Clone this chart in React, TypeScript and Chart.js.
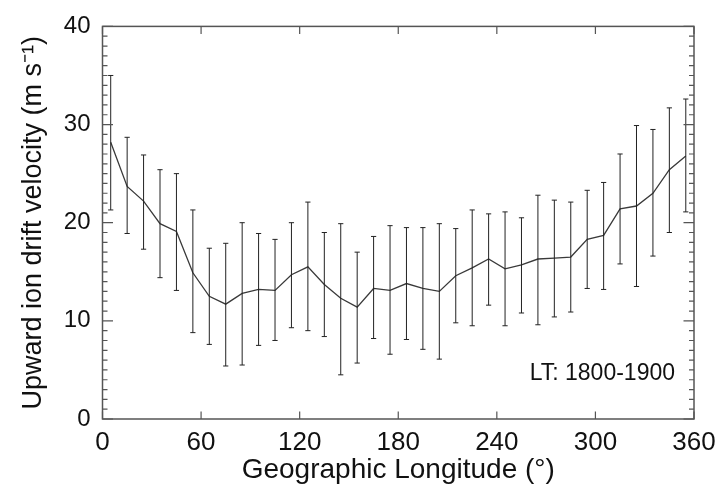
import React, { useEffect, useRef } from "react";
import { Chart, registerables } from "chart.js";

Chart.register(...registerables);

const longitudes = [5, 15, 25, 35, 45, 55, 65, 75, 85, 95, 105, 115, 125, 135, 145, 155, 165, 175, 185, 195, 205, 215, 225, 235, 245, 255, 265, 275, 285, 295, 305, 315, 325, 335, 345, 355];
const meanVelocity = [28.2, 23.7, 22.2, 19.9, 19.1, 14.9, 12.5, 11.7, 12.8, 13.2, 13.1, 14.7, 15.5, 13.7, 12.3, 11.4, 13.3, 13.1, 13.8, 13.3, 13.0, 14.6, 15.4, 16.3, 15.3, 15.7, 16.3, 16.4, 16.5, 18.3, 18.7, 21.4, 21.7, 23.0, 25.4, 26.8];
const upperVelocity = [35.0, 28.7, 26.9, 25.4, 25.0, 21.3, 17.4, 17.9, 20.0, 18.9, 18.3, 20.0, 22.1, 19.0, 19.9, 17.0, 18.6, 19.7, 19.5, 19.5, 19.9, 19.4, 21.3, 20.9, 21.1, 20.5, 22.8, 22.3, 22.1, 23.3, 24.1, 27.0, 29.9, 29.5, 31.7, 32.6];
const lowerVelocity = [21.3, 18.9, 17.3, 14.4, 13.1, 8.8, 7.6, 5.4, 5.5, 7.5, 8.0, 9.3, 9.0, 8.4, 4.5, 5.7, 8.2, 6.6, 8.1, 7.1, 6.1, 9.8, 9.5, 11.6, 9.5, 10.8, 9.6, 10.4, 10.9, 13.3, 13.2, 15.8, 13.5, 16.6, 19.0, 21.1];
const xTickValues = [0, 60, 120, 180, 240, 300, 360];
const yTickValues = [0, 10, 20, 30, 40];
const annotationText = "LT: 1800-1900";
const xTitle = "Geographic Longitude (\u00B0)";
const yTitle = "Upward ion drift velocity (m s\u207B\u00B9)";

const FONT = "'Liberation Sans', Arial, Helvetica, sans-serif";

const errorBarPlugin = {
  id: "errorBars",
  afterDatasetsDraw(chart: any) {
    const { ctx, scales } = chart;
    const xs = scales.x;
    const ys = scales.y;
    ctx.save();
    ctx.strokeStyle = "#222";
    ctx.lineWidth = 1;
    const cap = 2.6;
    for (let i = 0; i < longitudes.length; i++) {
      const x = xs.getPixelForValue(longitudes[i]);
      const yt = ys.getPixelForValue(upperVelocity[i]);
      const yb = ys.getPixelForValue(lowerVelocity[i]);
      ctx.beginPath();
      ctx.moveTo(x, yt);
      ctx.lineTo(x, yb);
      ctx.moveTo(x - cap, yt);
      ctx.lineTo(x + cap, yt);
      ctx.moveTo(x - cap, yb);
      ctx.lineTo(x + cap, yb);
      ctx.stroke();
    }
    ctx.restore();
  },
};

const framePlugin = {
  id: "frame",
  afterDraw(chart: any) {
    const { ctx, chartArea, scales } = chart;
    const { left, right, top, bottom } = chartArea;
    const xs = scales.x;
    const ys = scales.y;
    ctx.save();
    ctx.strokeStyle = "#555";
    ctx.lineWidth = 1.5;
    ctx.strokeRect(left, top, right - left, bottom - top);
    ctx.lineWidth = 1.2;
    ctx.beginPath();
    for (const v of xTickValues) {
      const x = xs.getPixelForValue(v);
      ctx.moveTo(x, bottom);
      ctx.lineTo(x, bottom - 7.5);
      ctx.moveTo(x, top);
      ctx.lineTo(x, top + 7.5);
    }
    for (let v = ys.min; v <= ys.max; v += 1) {
      const y = ys.getPixelForValue(v);
      const len = v % 10 === 0 ? 10.5 : 5;
      ctx.moveTo(left, y);
      ctx.lineTo(left + len, y);
      ctx.moveTo(right, y);
      ctx.lineTo(right - len, y);
    }
    ctx.stroke();
    ctx.fillStyle = "#111";
    ctx.font = `23px ${FONT}`;
    ctx.textAlign = "right";
    ctx.textBaseline = "alphabetic";
    ctx.fillText(annotationText, right - 19, ys.getPixelForValue(4));
    ctx.restore();
  },
};

export default function App() {
  const canvasRef = useRef<HTMLCanvasElement | null>(null);

  useEffect(() => {
    const canvas = canvasRef.current;
    if (!canvas) return;
    const points = longitudes.map((lon, i) => ({ x: lon, y: meanVelocity[i] }));
    const chart = new Chart(canvas, {
      type: "line",
      data: {
        datasets: [
          {
            data: points,
            borderColor: "#3a3a3a",
            borderWidth: 1.3,
            pointRadius: 0,
            tension: 0,
            fill: false,
          },
        ],
      },
      options: {
        responsive: false,
        animation: false,
        events: [],
        layout: { padding: { left: 0, top: 12, right: 31, bottom: 0 } },
        plugins: {
          legend: { display: false },
          tooltip: { enabled: false },
          title: { display: false },
        },
        scales: {
          x: {
            type: "linear",
            min: 0,
            max: 360,
            afterFit: (scale: any) => {
              scale.height = 76;
            },
            afterBuildTicks: (scale: any) => {
              scale.ticks = xTickValues.map((v) => ({ value: v }));
            },
            grid: { display: false, drawTicks: false },
            border: { display: false },
            ticks: {
              color: "#111",
              font: { family: FONT, size: 26 },
              padding: 8,
              maxRotation: 0,
              autoSkip: false,
            },
            title: {
              display: true,
              text: xTitle,
              color: "#111",
              font: { family: FONT, size: 28 },
              padding: { top: 0, bottom: 8 },
            },
          },
          y: {
            type: "linear",
            min: 0,
            max: 40,
            afterFit: (scale: any) => {
              scale.width = 102.5;
            },
            afterBuildTicks: (scale: any) => {
              scale.ticks = yTickValues.map((v) => ({ value: v }));
            },
            grid: { display: false, drawTicks: false },
            border: { display: false },
            ticks: {
              color: "#111",
              font: { family: FONT, size: 24 },
              padding: 12,
              autoSkip: false,
            },
            title: {
              display: true,
              text: yTitle,
              color: "#111",
              font: { family: FONT, size: 27 },
              padding: { top: 17, bottom: 0 },
            },
          },
        },
      },
      plugins: [errorBarPlugin, framePlugin],
    });
    return () => chart.destroy();
  }, []);

  return (
    <div style={{ position: "absolute", left: 0, top: 0, width: 725, height: 495, background: "#fff" }}>
      <canvas ref={canvasRef} width={725} height={495} style={{ display: "block" }} />
    </div>
  );
}
